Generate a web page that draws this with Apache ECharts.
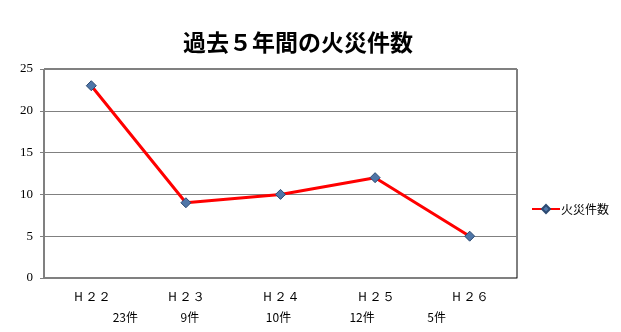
<!DOCTYPE html>
<html><head><meta charset="utf-8">
<script src="https://cdn.jsdelivr.net/npm/echarts@6/dist/echarts.min.js"></script>
<style>html,body{margin:0;padding:0;background:#fff}#c{width:621px;height:332px}</style>
</head><body><div id="c"></div>
<script>
const categories = ['Ｈ２２', 'Ｈ２３', 'Ｈ２４', 'Ｈ２５', 'Ｈ２６'];
const fireCounts = [23, 9, 10, 12, 5];
const countLabels = ['23件', '9件', '10件', '12件', '5件'];
const countLabelOffsets = [34, 4, -2, -13, -33];
const seriesName = '火災件数';
const titleText = '過去５年間の火災件数';

const chart = echarts.init(document.getElementById('c'));
const grid = {left: 44, right: 104, top: 69, bottom: 54};
chart.setOption({
  animation: false,
  backgroundColor: '#fff',
  title: {text: titleText, left: 293, top: 26, textAlign: 'center',
    textStyle: {fontFamily: 'Noto Sans CJK JP', fontSize: 23, fontWeight: 'bold', color: '#000'}},
  legend: {orient: 'vertical', left: 526, top: 198, itemWidth: 28, itemHeight: 10, itemGap: 4,
    textStyle: {fontFamily: 'Noto Sans CJK JP', fontSize: 12, color: '#000', padding: [0,0,0,-4]},
    data: [{name: seriesName}]},
  grid: Object.assign({show: true, borderColor: '#000', borderWidth: 1}, grid),
  xAxis: {type: 'category', data: categories, boundaryGap: true,
    axisLine: {lineStyle: {color: '#808080'}}, axisTick: {show: false},
    axisLabel: {margin: 13, fontFamily: 'Liberation Serif', fontSize: 13, color: '#000'}},
  yAxis: {type: 'value', min: 0, max: 25, interval: 5,
    axisLine: {show: true, lineStyle: {color: '#808080'}},
    axisTick: {show: true, length: 4, lineStyle: {color: '#808080'}},
    splitLine: {lineStyle: {color: '#808080'}},
    axisLabel: {margin: 11, fontFamily: 'Liberation Serif', fontSize: 13, color: '#000'}},
  series: [{name: seriesName, type: 'line', data: fireCounts,
    symbol: 'diamond', symbolSize: 10,
    lineStyle: {color: '#ff0000', width: 3},
    itemStyle: {color: '#4f76a8', borderColor: '#2c4a72', borderWidth: 1}}]
});
const elements = countLabels.map((t, i) => {
  const p = chart.convertToPixel({xAxisIndex: 0}, categories[i]);
  return {type: 'text', x: p + countLabelOffsets[i], y: 317,
    style: {text: t, fontFamily: 'Noto Sans CJK JP', fontSize: 12, fill: '#000',
      textAlign: 'center', textVerticalAlign: 'middle'}};
});
chart.setOption({graphic: elements});
</script></body></html>
